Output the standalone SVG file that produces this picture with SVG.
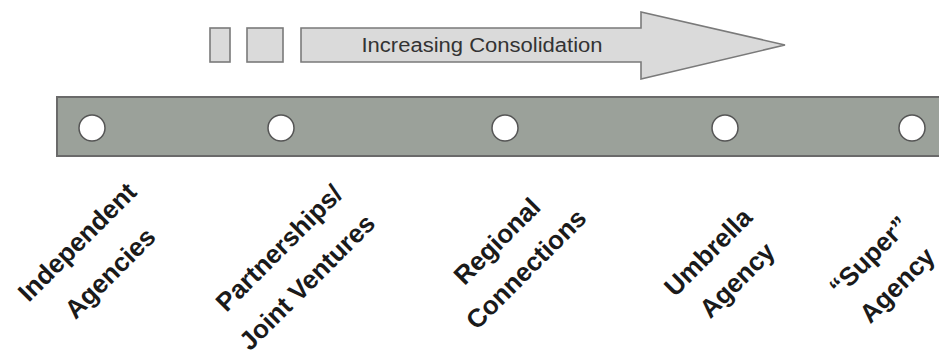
<svg xmlns="http://www.w3.org/2000/svg" width="939" height="357" viewBox="0 0 939 357">
<style>
.box{fill:#dadada;stroke:#7a7a7a;stroke-width:1.6}
.bar{fill:#9ba19a;stroke:#6a6a6a;stroke-width:2}
.dot{fill:#ffffff;stroke:#555555;stroke-width:1.5}
.lbl{font-family:"Liberation Sans",Arial,sans-serif;font-weight:bold;font-size:26px;fill:#1a1a1a;text-anchor:middle;dominant-baseline:central}
.arr{font-family:"Liberation Sans",Arial,sans-serif;font-size:20px;fill:#333;text-anchor:middle}
</style>
<rect width="939" height="357" fill="#ffffff"/>
<g id="consolidation-arrow">
<rect class="box" x="210" y="28" width="20" height="34"/>
<rect class="box" x="247" y="28" width="36" height="34"/>
<polygon class="box" points="301,28 641,28 641,12 785,45 641,79 641,62 301,62"/>
<text class="arr" x="482" y="52" textLength="241" lengthAdjust="spacingAndGlyphs">Increasing Consolidation</text>
</g>
<g id="timeline-bar">
<rect class="bar" x="57" y="97" width="890" height="59"/>
</g>
<g id="connectors"></g>
<g id="node-independent">
<circle class="dot" cx="92" cy="128" r="13"/>
<text class="lbl" transform="translate(77,242) rotate(-45)">Independent</text>
<text class="lbl" transform="translate(110,273) rotate(-45)">Agencies</text>
</g>
<g id="node-partnerships">
<circle class="dot" cx="281" cy="128" r="13"/>
<text class="lbl" transform="translate(279,248) rotate(-45)">Partnerships/</text>
<text class="lbl" transform="translate(307,282) rotate(-45)">Joint Ventures</text>
</g>
<g id="node-regional">
<circle class="dot" cx="505" cy="128" r="13"/>
<text class="lbl" transform="translate(497,241) rotate(-45)">Regional</text>
<text class="lbl" transform="translate(526,269) rotate(-45)">Connections</text>
</g>
<g id="node-umbrella">
<circle class="dot" cx="725" cy="128" r="13"/>
<text class="lbl" transform="translate(708,252) rotate(-45)">Umbrella</text>
<text class="lbl" transform="translate(737,280) rotate(-45)">Agency</text>
</g>
<g id="node-super">
<circle class="dot" cx="912" cy="128" r="13"/>
<text class="lbl" transform="translate(869,256) rotate(-45)">“Super”</text>
<text class="lbl" transform="translate(897,285) rotate(-45)">Agency</text>
</g>
</svg>
